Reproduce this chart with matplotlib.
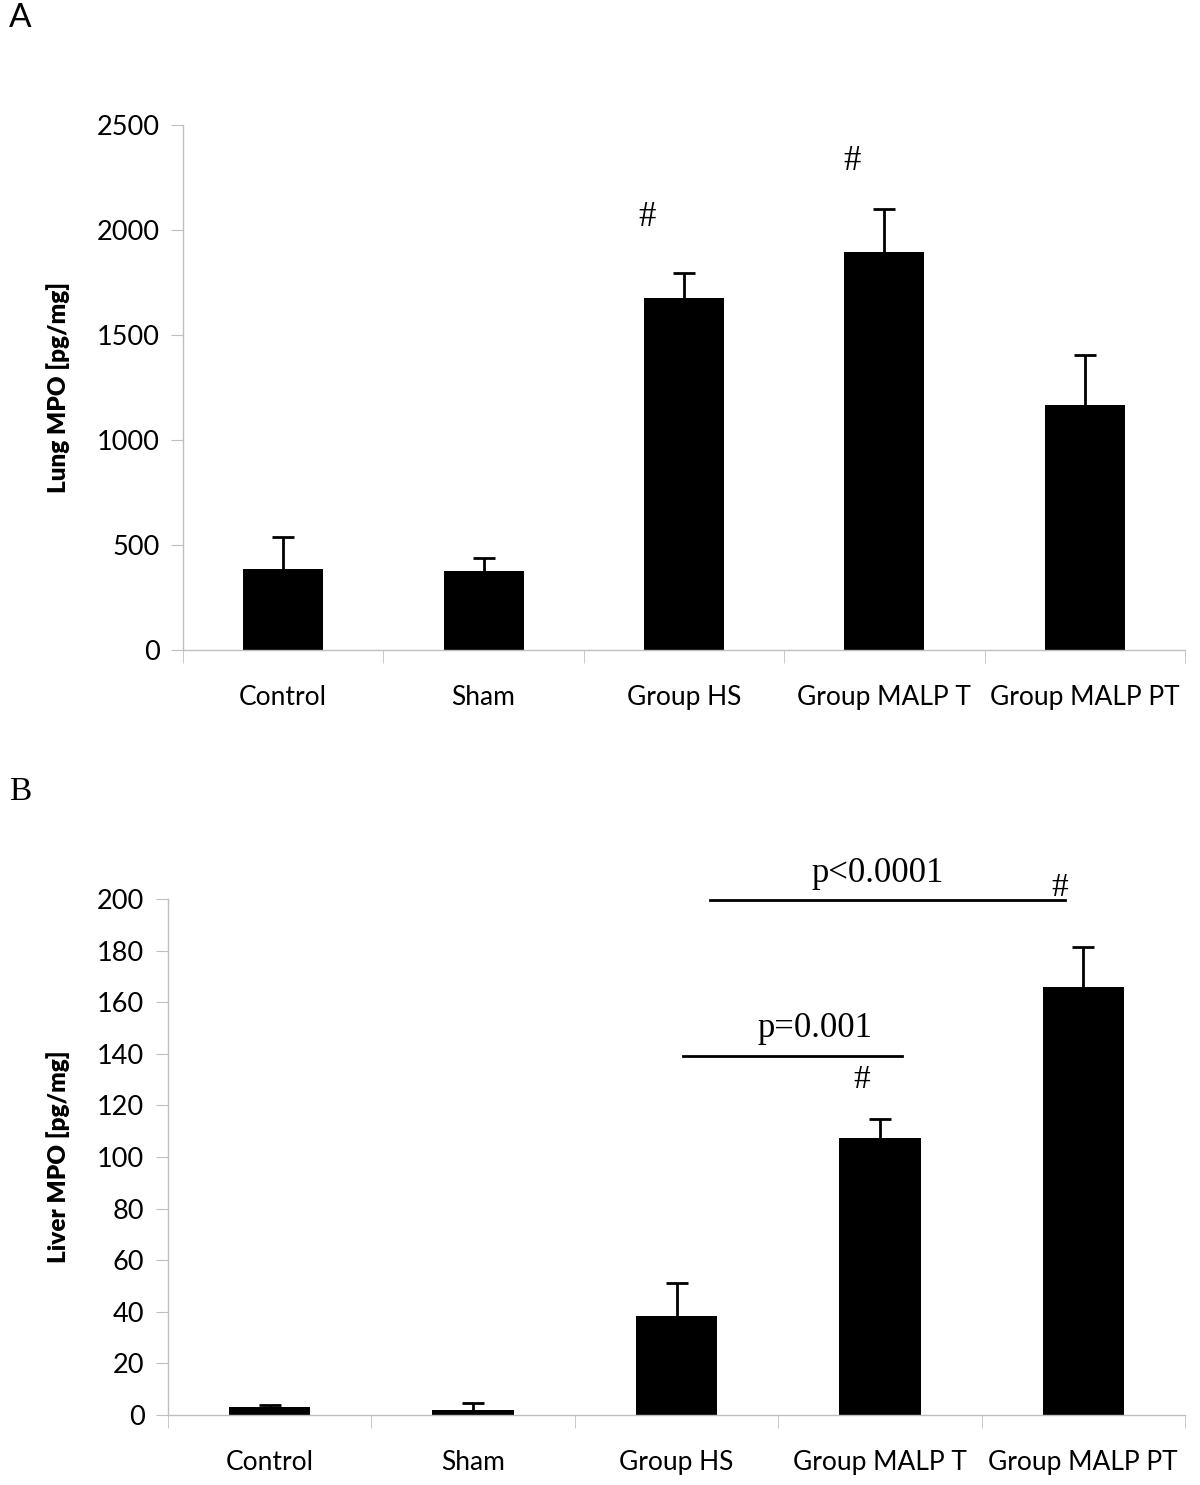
"""
Lung and liver MPO bar charts (panels A and B), Excel-style layout.
"""

import matplotlib

matplotlib.use("Agg")
import matplotlib.pyplot as plt
import numpy as np

# ---------------------------------------------------------------------------
# Data
# ---------------------------------------------------------------------------

groups = ["Control", "Sham", "Group HS", "Group MALP T", "Group MALP PT"]

lung_mpo = [386, 376, 1675, 1895, 1167]
lung_err = [152, 64, 120, 205, 240]

liver_mpo = [3.1, 1.9, 38.4, 107.4, 165.9]
liver_err = [0.9, 2.8, 12.8, 7.3, 15.6]

lung_ticks = [0, 500, 1000, 1500, 2000, 2500]
liver_ticks = [0, 20, 40, 60, 80, 100, 120, 140, 160, 180, 200]

SANS = "Lato"
SERIF = "Liberation Serif"
AXIS_GREY = "#BFBFBF"


def style_axis(ax, yticks, ylabel, label_x):
    x = np.arange(len(groups))
    ax.set_xlim(-0.5, len(groups) - 0.5)
    ax.set_ylim(yticks[0], yticks[-1])
    ax.set_yticks(yticks)
    ax.set_yticklabels([str(t) for t in yticks], fontsize=19.5, family=SANS)
    ax.set_xticks(x)
    ax.set_xticklabels(groups, fontsize=19, family=SANS)
    ax.set_xticks(np.arange(len(groups) + 1) - 0.5, minor=True)
    ax.tick_params(axis="x", which="major", length=0, pad=25)
    ax.tick_params(axis="x", which="minor", length=9, color=AXIS_GREY,
                   direction="out")
    ax.tick_params(axis="y", length=9, color=AXIS_GREY, direction="out",
                   pad=8)
    for side in ("top", "right"):
        ax.spines[side].set_visible(False)
    for side in ("left", "bottom"):
        ax.spines[side].set_color(AXIS_GREY)
        ax.spines[side].set_linewidth(1.0)
    ax.set_ylabel(ylabel, fontsize=17.5, fontweight="heavy", family=SANS)
    ax.yaxis.set_label_coords(label_x, 0.5)


def draw_bars(ax, values, errors):
    x = np.arange(len(groups))
    ax.bar(x, values, width=0.4, color="black", zorder=2)
    _, caps, _ = ax.errorbar(x, values,
                             yerr=[np.zeros(len(values)), errors],
                             fmt="none", ecolor="black", elinewidth=2,
                             capsize=8, capthick=2, zorder=3)
    # only the upper whisker is shown, as in the spreadsheet original
    caps[0].set_visible(False)


fig = plt.figure(figsize=(12, 14.85), dpi=100)

# ---------------------------------------------------------------------------
# Panel A: lung
# ---------------------------------------------------------------------------
ax1 = fig.add_axes([0.1525, 0.5623, 0.835, 0.3535])
draw_bars(ax1, lung_mpo, lung_err)
style_axis(ax1, lung_ticks, "Lung MPO [pg/mg]", -0.113)
for xh, yh in [(1.815, 2062), (2.84, 2324)]:
    ax1.text(xh, yh, "#", fontsize=25, family=SERIF, ha="center",
             va="center")

# ---------------------------------------------------------------------------
# Panel B: liver
# ---------------------------------------------------------------------------
ax2 = fig.add_axes([0.14, 0.0471, 0.8475, 0.3475])
draw_bars(ax2, liver_mpo, liver_err)
style_axis(ax2, liver_ticks, "Liver MPO [pg/mg]", -0.096)

ax2.plot([2.165, 3.91], [199.6, 199.6], color="black", linewidth=2,
         clip_on=False, zorder=4)
ax2.text(2.99, 210, "p<0.0001", fontsize=25, family=SERIF, ha="center",
         va="center")
ax2.text(3.885, 204.5, "#", fontsize=24, family=SERIF, ha="center",
         va="center")

ax2.plot([2.03, 3.11], [139.1, 139.1], color="black", linewidth=2, zorder=4)
ax2.text(2.68, 150, "p=0.001", fontsize=25, family=SERIF, ha="center",
         va="center")
ax2.text(2.91, 129.8, "#", fontsize=24, family=SERIF, ha="center",
         va="center")

# Panel letters
fig.text(20 / 1200, 1 - 18 / 1485, "A", fontsize=24, family=SANS,
         ha="center", va="center")
fig.text(20 / 1200, 1 - 792 / 1485, "B", fontsize=24, family=SERIF,
         ha="center", va="center")

fig.savefig("out.png", dpi=100)
plt.close(fig)
